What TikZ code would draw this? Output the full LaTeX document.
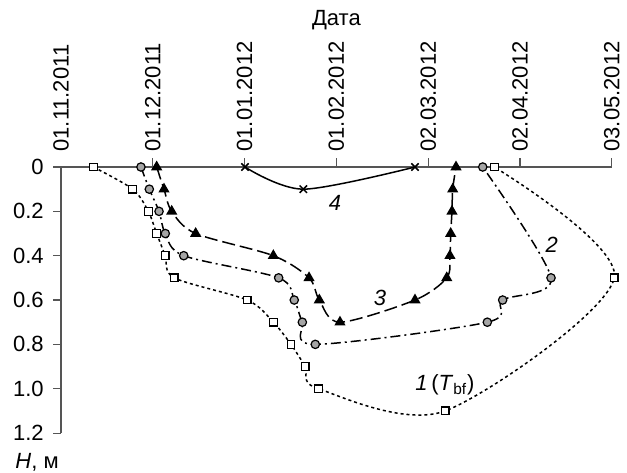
\documentclass[tikz,border=0pt]{standalone}
\usepackage{fontspec}
\setmainfont{Liberation Sans}
\usepackage{tikz}
\usetikzlibrary{positioning, plotmarks}
\definecolor{AxisGray}{RGB}{85, 85, 85}
\definecolor{MarkGray}{RGB}{165, 165, 165}

\begin{document}
\begin{tikzpicture}[x=45.9pt, y=-110.85pt, font=\fontsize{11}{13}\selectfont,
    curve/.style={line width=0.75pt, black},
    axisline/.style={line width=0.55pt, AxisGray}]
    \useasboundingbox (-0.6645,-0.7533) rectangle (6.1656,1.3757);

    % Axes
    \draw[axisline] (0,0) -- (6,0);
    \draw[axisline] (0,0) -- (0,1.2);

    % Date ticks (top)
    \foreach \x/\d [count=\i] in {0/01.11.2011, 1/01.12.2011, 2/01.01.2012, 3/01.02.2012, 4/02.03.2012, 5/02.04.2012, 6/03.05.2012} {
        \ifnum\i>1 \draw[axisline] (\x,0) -- (\x,-0.04); \fi
        \node[rotate=90, anchor=west, inner sep=0] (date\i) at (\x,-0.068) {\d};
    }
    \node (datum) at (3.0,-0.663) {Дата};

    % Depth ticks (left)
    \foreach \h/\t [count=\i] in {0/0, 0.2/0.2, 0.4/0.4, 0.6/0.6, 0.8/0.8, 1.0/1.0, 1.2/1.2} {
        \draw[axisline] (-0.087,\h) -- (0,\h);
        \node[anchor=east, inner sep=0] (depth\i) at (-0.185,\h) {\t};
    }
    \node (hlabel) at (-0.261,1.333) {\textit{H}, м};

    % Curve 1 (T_bf)
    \draw[curve, dash pattern=on 1.5pt off 1.5pt, mark=square*, mark size=1.9pt,
        mark options={solid, line width=0.6pt, fill=white}]
        plot[smooth] coordinates {(0.352,0) (0.781,0.1) (0.951,0.2) (1.042,0.3) (1.136,0.4) (1.234,0.5)
        (2.029,0.6) (2.313,0.7) (2.505,0.8) (2.661,0.9) (2.803,1.0) (4.186,1.1) (6.027,0.5) (4.720,0)};

    % Curve 2
    \draw[curve, dash pattern=on 5pt off 2pt on 1pt off 2pt, mark=*, mark size=2.1pt,
        mark options={solid, line width=0.6pt, fill=MarkGray}]
        plot[smooth] coordinates {(0.871,0) (0.962,0.1) (1.068,0.2) (1.136,0.3) (1.337,0.4) (2.371,0.5)
        (2.541,0.6) (2.629,0.7) (2.770,0.8) (4.644,0.7) (4.811,0.6) (5.338,0.5) (4.594,0)};

    % Curve 3
    \draw[curve, dash pattern=on 6.5pt off 2.5pt, mark=triangle*, mark size=2.5pt,
        mark options={solid, fill=black}]
        plot[smooth] coordinates {(1.042,0) (1.122,0.1) (1.206,0.2) (1.467,0.3) (2.313,0.4) (2.702,0.5)
        (2.814,0.6) (3.039,0.7) (3.856,0.6) (4.202,0.5) (4.237,0.4) (4.245,0.3) (4.259,0.2) (4.267,0.1) (4.303,0)};

    % Curve 4
    \draw[curve, mark=x, mark size=2.6pt]
        plot[smooth] coordinates {(2.004,0) (2.640,0.1) (3.856,0)};

    % Curve labels
    \node (lab1) at (4.183,0.983) {\textit{1}\,(\textit{T}\textsubscript{bf})};
    \node (lab2) at (5.345,0.352) {\textit{2}};
    \node (lab3) at (3.475,0.591) {\textit{3}};
    \node (lab4) at (2.985,0.162) {\textit{4}};
\end{tikzpicture}
\end{document}
